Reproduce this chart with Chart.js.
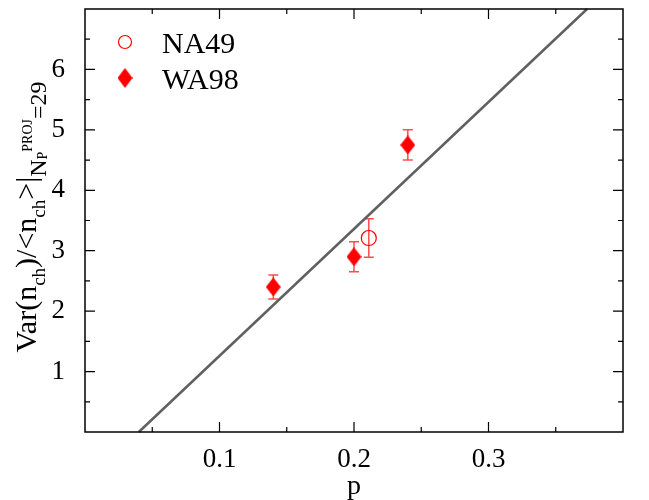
<!DOCTYPE html>
<html>
<head>
<meta charset="utf-8">
<script src="https://cdn.jsdelivr.net/npm/chart.js@4"></script>
<style>
	body { margin: 0; background: #fff; }
	#wrap { width: 649px; height: 500px; }
</style>
</head>
<body>
<div id="wrap"><canvas id="plot" width="649" height="500"></canvas></div>
<script>
// data
var na49P = [0.211];
var na49Val = [3.21];
var na49Err = [0.32];

var wa98P = [0.14, 0.20, 0.24];
var wa98Val = [2.40, 2.90, 4.75];
var wa98Err = [0.20, 0.25, 0.25];

// straight line fit, two end points
var fitP = [0.04, 0.3733];
var fitVal = [0, 7];

var xTickLabels = [0.1, 0.2, 0.3];
var yTickLabels = [1, 2, 3, 4, 5, 6];

var RED = '#ff0000';
var ERR = '#ff4d4d';
var SERIF = "'Liberation Serif', serif";

Chart.defaults.font.family = SERIF;

function toPoints(xs, ys) {
	return xs.map(function (x, i) { return { x: x, y: ys[i] }; });
}

// tall diamond used for WA98
function makeDiamond(w, h) {
	var c = document.createElement('canvas');
	c.width = w; c.height = h;
	var g = c.getContext('2d');
	g.fillStyle = RED;
	g.beginPath();
	g.moveTo(w / 2, 0);
	g.lineTo(w, h / 2);
	g.lineTo(w / 2, h);
	g.lineTo(0, h / 2);
	g.closePath();
	g.fill();
	return c;
}
var diamond = makeDiamond(15, 19);
var diamondLegend = makeDiamond(15, 20);

function hasLabel(list, v) {
	return list.some(function (t) { return Math.abs(t - v) < 1e-6; });
}

var frameAndBars = {
	id: 'frameAndBars',
	beforeDatasetsDraw(chart) {
		var ctx = chart.ctx;
		var xs = chart.scales.x, ys = chart.scales.y;
		// error bars
		ctx.save();
		ctx.strokeStyle = ERR;
		ctx.lineWidth = 1.5;
		function bars(px, vals, errs) {
			px.forEach(function (p, i) {
				var x = xs.getPixelForValue(p);
				var y1 = ys.getPixelForValue(vals[i] + errs[i]);
				var y2 = ys.getPixelForValue(vals[i] - errs[i]);
				ctx.beginPath();
				ctx.moveTo(x, y1); ctx.lineTo(x, y2);
				ctx.moveTo(x - 5, y1); ctx.lineTo(x + 5, y1);
				ctx.moveTo(x - 5, y2); ctx.lineTo(x + 5, y2);
				ctx.stroke();
			});
		}
		bars(na49P, na49Val, na49Err);
		bars(wa98P, wa98Val, wa98Err);
		ctx.restore();
	},
	afterDraw(chart) {
		var ctx = chart.ctx;
		var a = chart.chartArea;
		var xs = chart.scales.x, ys = chart.scales.y;
		ctx.save();
		ctx.strokeStyle = '#000';
		ctx.lineWidth = 1.5;
		ctx.strokeRect(a.left, a.top, a.right - a.left, a.bottom - a.top);
		ctx.lineWidth = 1.2;
		ctx.beginPath();
		xs.ticks.forEach(function (t) {
			if (t.value <= xs.min + 1e-9 || t.value >= xs.max - 1e-9) return;
			var x = xs.getPixelForValue(t.value);
			var len = hasLabel(xTickLabels, t.value) ? 10 : 5;
			ctx.moveTo(x, a.bottom); ctx.lineTo(x, a.bottom - len);
			ctx.moveTo(x, a.top); ctx.lineTo(x, a.top + len);
		});
		ys.ticks.forEach(function (t) {
			if (t.value <= ys.min + 1e-9 || t.value >= ys.max - 1e-9) return;
			var y = ys.getPixelForValue(t.value);
			var len = hasLabel(yTickLabels, t.value) ? 10 : 5;
			ctx.moveTo(a.left, y); ctx.lineTo(a.left + len, y);
			ctx.moveTo(a.right, y); ctx.lineTo(a.right - len, y);
		});
		ctx.stroke();

		// legend
		ctx.strokeStyle = RED;
		ctx.lineWidth = 1.2;
		ctx.beginPath();
		ctx.arc(125, 42, 6.5, 0, Math.PI * 2);
		ctx.stroke();
		ctx.drawImage(diamondLegend, 125 - 7.5, 78 - 10);
		ctx.fillStyle = '#000';
		ctx.font = '30px ' + SERIF;
		ctx.textBaseline = 'alphabetic';
		ctx.fillText('NA49', 162, 53);
		ctx.fillText('WA98', 162, 89);

		// x title
		ctx.textAlign = 'center';
		ctx.font = '28px ' + SERIF;
		ctx.fillText('p', xs.getPixelForValue(0.2), 494);

		// y title with sub/superscripts, drawn rotated
		var parts = [
			['Var(n', 30, 0], ['ch', 19, 9], [')/<n', 30, 0], ['ch', 19, 9],
			['>|', 30, 0], ['N', 24, 10], ['P', 14, 11], ['PROJ', 14, -4], ['=29', 24, 10]
		];
		ctx.textAlign = 'left';
		var total = 0;
		parts.forEach(function (p) { ctx.font = p[1] + 'px ' + SERIF; total += ctx.measureText(p[0]).width; });
		ctx.translate(36, 217);
		ctx.rotate(-Math.PI / 2);
		var cx = -total / 2;
		parts.forEach(function (p) {
			ctx.font = p[1] + 'px ' + SERIF;
			ctx.fillText(p[0], cx, p[2]);
			cx += ctx.measureText(p[0]).width;
		});
		ctx.restore();
	}
};

new Chart(document.getElementById('plot'), {
	type: 'scatter',
	data: {
		datasets: [
			{
				label: 'fit',
				type: 'line',
				data: toPoints(fitP, fitVal),
				borderColor: '#606060',
				borderWidth: 2.5,
				pointRadius: 0,
				fill: false
			},
			{
				label: 'NA49',
				data: toPoints(na49P, na49Val),
				pointStyle: 'circle',
				pointRadius: 7.5,
				borderColor: RED,
				borderWidth: 1.2,
				backgroundColor: 'rgba(0,0,0,0)'
			},
			{
				label: 'WA98',
				data: toPoints(wa98P, wa98Val),
				pointStyle: diamond,
				pointRadius: 8
			}
		]
	},
	options: {
		responsive: false,
		animation: false,
		clip: false,
		layout: { padding: { left: 0, right: 26, top: -10, bottom: 0 } },
		plugins: { legend: { display: false }, tooltip: { enabled: false } },
		scales: {
			x: {
				type: 'linear',
				min: 0, max: 0.4,
				border: { display: false },
				grid: { display: false },
				afterFit(scale) { scale.height = 68; scale.paddingLeft = 0; scale.paddingRight = 0; },
				ticks: {
					stepSize: 0.05,
					autoSkip: false,
					maxRotation: 0,
					padding: 4,
					color: '#000',
					font: { family: SERIF, size: 27 },
					callback(v) { return hasLabel(xTickLabels, v) ? v.toFixed(1) : ''; }
				}
			},
			y: {
				type: 'linear',
				min: 0, max: 7,
				border: { display: false },
				grid: { display: false },
				afterFit(scale) { scale.width = 85; scale.paddingTop = 0; scale.paddingBottom = 0; },
				ticks: {
					stepSize: 0.5,
					autoSkip: false,
					padding: 12,
					color: '#000',
					font: { family: SERIF, size: 27 },
					callback(v) { return hasLabel(yTickLabels, v) ? String(v) : ''; }
				}
			}
		}
	},
	plugins: [frameAndBars]
});
</script>
</body>
</html>
